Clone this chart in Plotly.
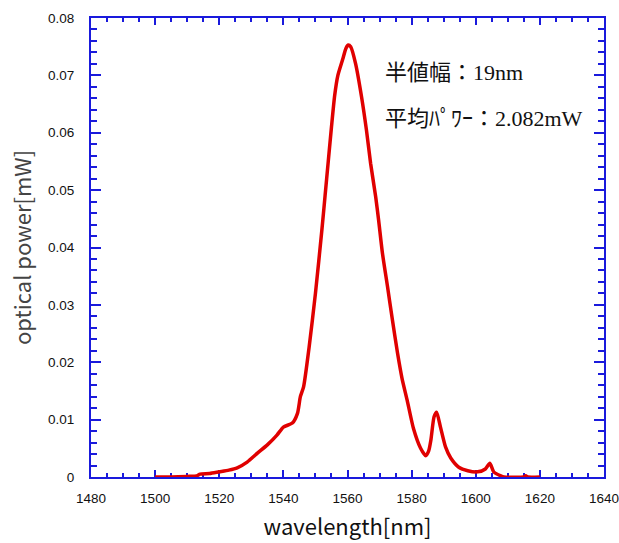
import plotly.graph_objects as go

wavelength = [1500, 1505, 1510, 1513, 1514, 1517, 1520, 1523, 1525.6, 1528.7, 1532, 1535,
              1538, 1540, 1542.8, 1544.4, 1545.3, 1546.3, 1548, 1550, 1552, 1553, 1554,
              1555, 1556, 1557, 1558.5, 1559.5, 1560.2, 1561,
              1562.5, 1564.4, 1565.9, 1567.2, 1568.8, 1569.7, 1570.9, 1572.5, 1574, 1575.6,
              1577, 1578.6, 1580.6, 1582.8, 1584.4, 1585.3, 1586, 1587, 1587.8, 1589,
              1590.6, 1592.2, 1594.7, 1597.5, 1600.6, 1603, 1604.4, 1605.6, 1607.8, 1608.8,
              1615, 1615.6, 1616.3, 1620]
power = [0, 0, 0.0001, 0.0002, 0.0005, 0.0006, 0.0009, 0.0012, 0.0016, 0.0026, 0.0042, 0.0056,
         0.0073, 0.0087, 0.0094, 0.0111, 0.014, 0.0157, 0.0225, 0.032, 0.043, 0.049, 0.055,
         0.061, 0.0665, 0.070, 0.0728, 0.0747, 0.0753, 0.0750,
         0.0721, 0.0662, 0.0605, 0.0547, 0.0488, 0.0448, 0.039, 0.0331, 0.0274, 0.0216,
         0.0172, 0.0134, 0.0084, 0.005, 0.0037, 0.0045, 0.0064, 0.0105, 0.0113, 0.0087,
         0.0052, 0.0033, 0.0017, 0.0011, 0.0009, 0.0014, 0.0024, 0.0009, 0.0002, 0,
         0, 0.0002, 0, 0]

x_ticks = [1480, 1500, 1520, 1540, 1560, 1580, 1600, 1620, 1640]
y_ticks = [0, 0.01, 0.02, 0.03, 0.04, 0.05, 0.06, 0.07, 0.08]
y_tick_labels = ["0", "0.01", "0.02", "0.03", "0.04", "0.05", "0.06", "0.07", "0.08"]
notes = ["半値幅：19nm", "平均ﾊﾟﾜｰ：2.082mW"]

blue = "#1a1adc"
red = "#e00000"

fig = go.Figure()
fig.add_trace(go.Scatter(x=wavelength, y=power, mode="lines",
                         line=dict(color=red, width=3.5, shape="spline", smoothing=0.6),
                         showlegend=False))

tickfont = dict(family="Liberation Sans, Arial", size=13.5, color="#111")

fig.update_xaxes(range=[1480, 1640], tickvals=x_ticks, ticktext=[str(v) for v in x_ticks],
                 showline=True, linecolor=blue, linewidth=2, mirror="allticks",
                 ticks="inside", ticklen=7, tickwidth=1.5, tickcolor=blue,
                 minor=dict(dtick=5, tick0=1480, ticks="inside", ticklen=4, tickwidth=1.5, tickcolor=blue),
                 showgrid=False, zeroline=False, tickfont=tickfont, ticklabelstandoff=8,
                 ticklabeloverflow="allow", automargin=False,
                 layer="below traces",
                 title=dict(text="wavelength[nm]", standoff=14,
                            font=dict(family="Noto Sans CJK JP", size=22, color="#111")))
fig.update_yaxes(range=[0, 0.08], tickvals=y_ticks, ticktext=y_tick_labels,
                 showline=True, linecolor=blue, linewidth=2, mirror="allticks",
                 ticks="inside", ticklen=10, tickwidth=1.5, tickcolor=blue,
                 minor=dict(dtick=0.002, tick0=0, ticks="inside", ticklen=6, tickwidth=1.5, tickcolor=blue),
                 showgrid=False, zeroline=False, tickfont=tickfont, ticklabelstandoff=12,
                 ticklabeloverflow="allow", automargin=False,
                 layer="below traces",
                 title=dict(text="optical power[mW]", standoff=10,
                            font=dict(family="Noto Sans CJK JP", size=22, color="#444")))

annfont = dict(family="Liberation Serif, Noto Sans CJK JP", size=22, color="#111")
ann_px = [(383, 72), (383, 119)]   # page pixel positions

L, R, T, B = 91, 15, 18, 66
W, H = 619, 543
pw_ = W - L - R
ph_ = H - T - B
for (px, py), txt in zip(ann_px, notes):
    fig.add_annotation(x=(px - L) / pw_, y=1 - (py - T) / ph_,
                       xref="paper", yref="paper",
                       text=txt, showarrow=False, font=annfont,
                       xanchor="left", yanchor="middle")

fig.update_layout(width=W, height=H, margin=dict(l=L, r=R, t=T, b=B),
                  plot_bgcolor="white", paper_bgcolor="white")

fig.write_html("out.html", config={"displayModeBar": False},
               post_script="document.body.style.margin='0';document.body.style.overflow='hidden';")
